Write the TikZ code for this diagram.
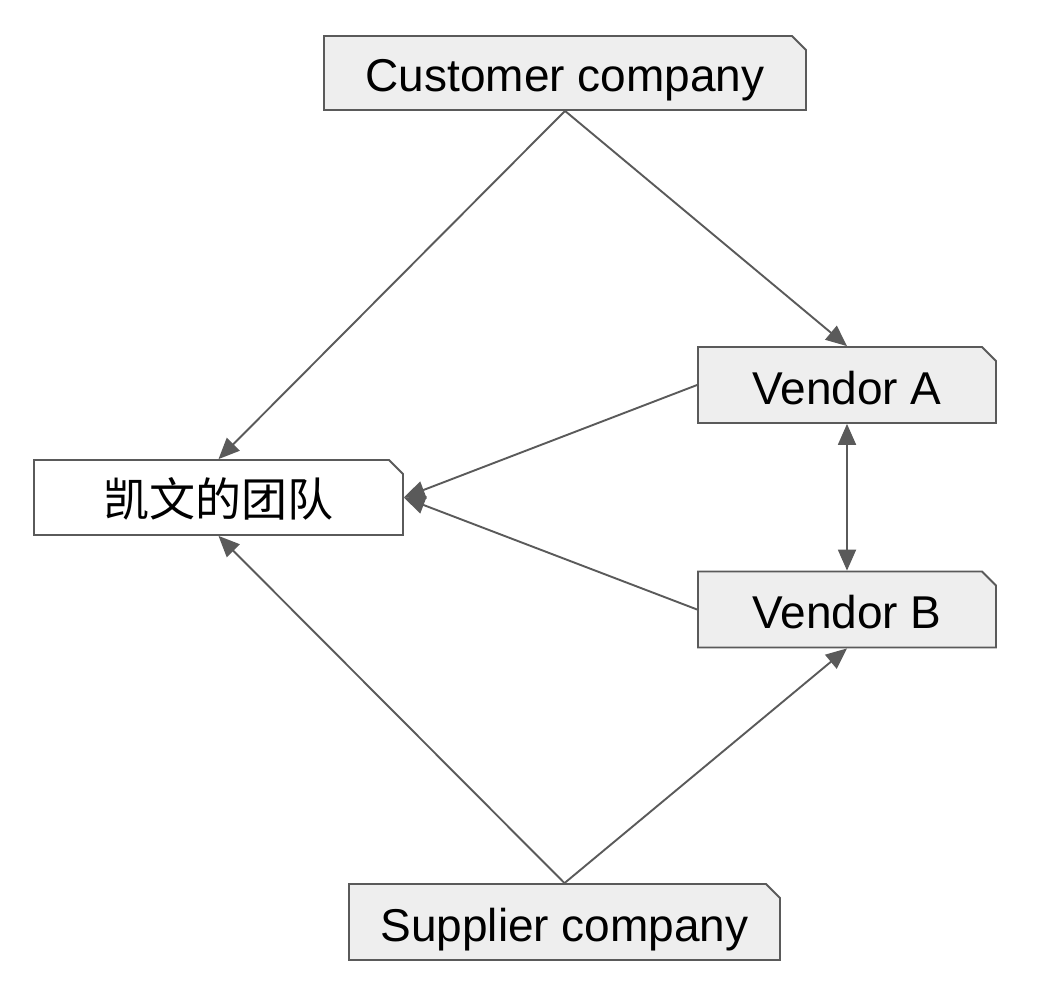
\documentclass[tikz,border=0pt]{standalone}
\usepackage{fontspec}
\setmainfont{Liberation Sans}
\newfontfamily\cjk{Noto Sans CJK SC}
\usetikzlibrary{arrows.meta,shapes.misc}
\definecolor{boxgray}{HTML}{EEEEEE}
\definecolor{linegray}{HTML}{5A5A5A}
\tikzset{
  party/.style={chamfered rectangle, chamfered rectangle corners=north east,
    chamfered rectangle xsep=7pt, chamfered rectangle ysep=7pt,
    draw=linegray, line width=1.8pt, fill=boxgray, inner sep=0pt,
    text height=38pt, text depth=0pt,
    font=\fontsize{46}{50}\selectfont},
  link/.style={draw=linegray, line width=1.9pt, -{Triangle[length=21pt,width=18pt]}}
}
\begin{document}
\begin{tikzpicture}[x=1pt,y=-1pt]
\useasboundingbox (0,0) rectangle (1050,982);
\node [party, minimum width=482pt, minimum height=74pt](customer) at (565,73){Customer company};
\node [party, fill=white, minimum width=369pt, minimum height=75pt](team) at (218.5,497.5){\cjk 凯文的团队};
\node [party, minimum width=298pt, minimum height=76pt](vendorA) at (847,385){Vendor A};
\node [party, minimum width=298pt, minimum height=76pt](vendorB) at (847,609.5){Vendor B};
\node [party, minimum width=431pt, minimum height=76pt](supplier) at (564.5,922){Supplier company};
\draw [link](customer.south) -- (team.north);
\draw [link](customer.south) -- (vendorA.north);
\draw [link](vendorA.west) -- (team.east);
\draw [link](vendorB.west) -- (team.east);
\draw [link, {Triangle[length=21pt,width=18pt]}-{Triangle[length=21pt,width=18pt]}](vendorA.south) -- (vendorB.north);
\draw [link](supplier.north) -- (team.south);
\draw [link](supplier.north) -- (vendorB.south);
\end{tikzpicture}
\end{document}
